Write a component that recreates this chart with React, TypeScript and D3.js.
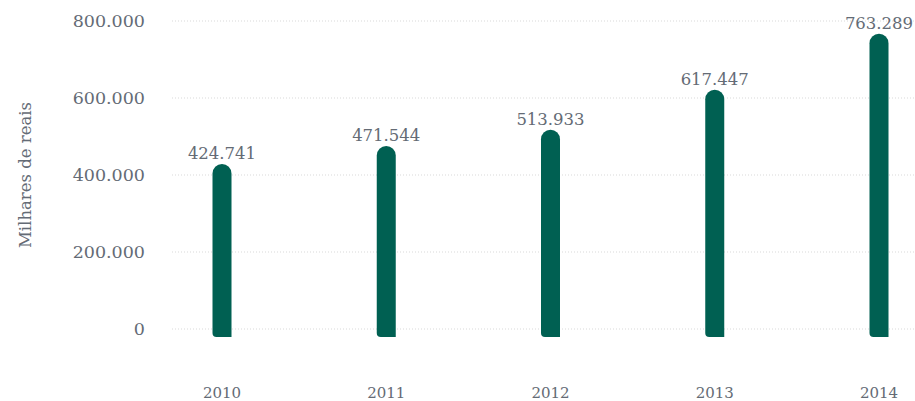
import React from "react";
import * as d3 from "d3";

const years = ["2010", "2011", "2012", "2013", "2014"];
const values = [424741, 471544, 513933, 617447, 763289];
const yTicks = [0, 200000, 400000, 600000, 800000];
const yTitle = "Milhares de reais";

const W = 915;
const H = 401;
const FONT = "'DejaVu Serif', serif";
const GREEN = "#006052";
const GREY = "#646b75";

const fmt = (v: number) =>
  v === 0 ? "0" : d3.format(",")(v).replace(/,/g, ".");

export default function App() {
  const x = d3.scalePoint<string>().domain(years).range([222, 879]);
  const y = d3.scaleLinear().domain([0, 800000]).range([329, 21]);
  const barW = 19;
  const bottom = 337;

  const barPath = (cx: number, top: number) => {
    const p = d3.path();
    const r = barW / 2;
    const l = cx - r;
    const rr = cx + r;
    const br = 4;
    p.moveTo(l, top + r);
    p.arc(cx, top + r, r, Math.PI, 0);
    p.lineTo(rr, bottom);
    p.lineTo(l + br, bottom);
    p.quadraticCurveTo(l, bottom, l, bottom - br);
    p.closePath();
    return p.toString();
  };

  return (
    <svg
      width={W}
      height={H}
      style={{ position: "absolute", left: 0, top: 0, background: "#fff" }}
      fontFamily={FONT}
    >
      {yTicks.map((t) => (
        <g key={t}>
          <line
            x1={172}
            x2={915}
            y1={y(t)}
            y2={y(t)}
            stroke="#d9d9d9"
            strokeWidth={1}
            strokeDasharray="1,2"
          />
          <text
            x={145}
            y={y(t)}
            dy="0.35em"
            textAnchor="end"
            fontSize={17.5}
            fill={GREY}
          >
            {fmt(t)}
          </text>
        </g>
      ))}
      <text
        transform={`translate(31,175) rotate(-90)`}
        textAnchor="middle"
        fontSize={16.5}
        fill={GREY}
      >
        {yTitle}
      </text>
      {years.map((yr, i) => {
        const cx = x(yr) as number;
        const top = y(values[i]) - 1.5;
        return (
          <g key={yr}>
            <path d={barPath(cx, top)} fill={GREEN} />
            <text
              x={cx}
              y={top - 5}
              textAnchor="middle"
              fontSize={16.5}
              fill={GREY}
            >
              {fmt(values[i])}
            </text>
            <text
              x={cx}
              y={398}
              textAnchor="middle"
              fontSize={15}
              fill={GREY}
            >
              {yr}
            </text>
          </g>
        );
      })}
    </svg>
  );
}
